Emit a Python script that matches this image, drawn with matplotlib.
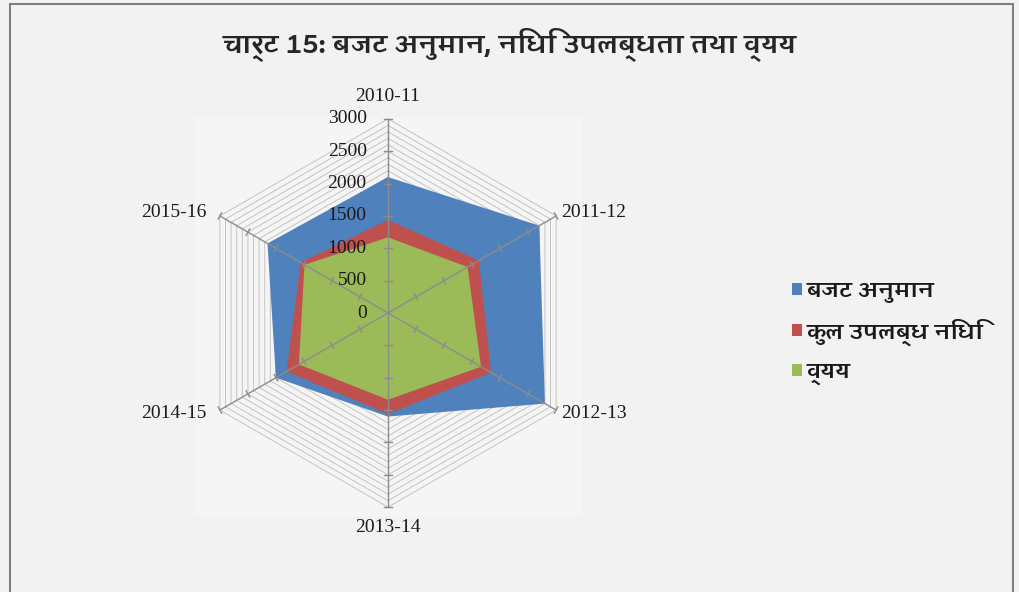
import numpy as np
import matplotlib
matplotlib.use('Agg')
import matplotlib.pyplot as plt
from matplotlib import font_manager
from matplotlib.ft2font import FT2Font
from matplotlib.patches import Rectangle

# data
years = ['2010-11', '2011-12', '2012-13', '2013-14', '2014-15', '2015-16']
budget = [2100, 2700, 2800, 1600, 2000, 2150]        # बजट अनुमान
available = [1440, 1620, 1840, 1560, 1810, 1560]    # कुल उपलब्ध निधि
expense = [1170, 1420, 1660, 1340, 1590, 1490]       # व्यय
series_names = ['बजट अनुमान', 'कुल उपलब्ध निधि', 'व्यय']
ticks = [0, 500, 1000, 1500, 2000, 2500, 3000]
title = 'चार्ट 15: बजट अनुमान, निधि उपलब्धता तथा व्यय'


def find_family(ch):
    # installed fonts that have the character, boldest-ish first
    found = []
    for f in font_manager.fontManager.ttflist:
        try:
            if ord(ch) in FT2Font(f.fname).get_charmap():
                w = f.weight if isinstance(f.weight, int) else font_manager.weight_dict.get(f.weight, 400)
                found.append((abs(w - 700), 'Thin' in f.name or 'Light' in f.name, f.name))
        except Exception:
            pass
    if not found:
        return None
    found.sort()
    return found[0][2]


deva = find_family('ब')
fam = [deva, 'DejaVu Sans'] if deva else ['DejaVu Sans']
serif = ['Liberation Serif', 'DejaVu Serif']
txt = '#1a1a1a'

bg = '#f2f2f2'
fig = plt.figure(figsize=(10.19, 5.92), dpi=100, facecolor=bg)
W, H = 1019, 592

# outer border
fig.add_artist(Rectangle((10 / W, -0.01), 1003 / W, 1 - 4 / H + 0.01, transform=fig.transFigure,
                         fill=False, edgecolor='#7f7f7f', lw=1.5))
# plot area slightly lighter
fig.add_artist(Rectangle((195 / W, 1 - 516 / H), 387 / W, 399 / H, transform=fig.transFigure,
                         facecolor='#f5f5f5', edgecolor='none', zorder=0))

cx, cy, half = 388, 313, 220
lim = 3400
ax = fig.add_axes([(cx - half) / W, (H - cy - half) / H, 2 * half / W, 2 * half / H])
ax.set_xlim(-lim, lim)
ax.set_ylim(-lim, lim)
ax.axis('off')

n = len(years)
ang = np.deg2rad(90 - 60 * np.arange(n))
ca, sa = np.cos(ang), np.sin(ang)


def ring(vals):
    v = np.asarray(vals, dtype=float)
    x = v * ca
    y = v * sa
    return np.append(x, x[0]), np.append(y, y[0])


# grid hexagons every 100
for g in range(100, 3001, 100):
    x, y = ring([g] * n)
    ax.plot(x, y, color='#c4c4c4', lw=0.7, zorder=1)

colors = ['#4f81bd', '#c0504d', '#9bbb59']
handles = []
for vals, col, name in zip([budget, available, expense], colors, series_names):
    x, y = ring(vals)
    h = ax.fill(x, y, color=col, lw=0, zorder=2, label=name)[0]
    handles.append(h)

# spokes with tick marks
for i in range(n):
    ax.plot([0, 3000 * ca[i]], [0, 3000 * sa[i]], color='#8c8c8c', lw=1.0, zorder=3)
    px, py = -sa[i], ca[i]
    for t in ticks[1:]:
        bx, by = t * ca[i], t * sa[i]
        ax.plot([bx - 55 * px, bx + 55 * px], [by - 55 * py, by + 55 * py],
                color='#8c8c8c', lw=1.0, zorder=3)

# value labels
for t in ticks:
    ax.text(-330, t, str(t), ha='right', va='center', fontsize=14,
            family=serif, color=txt, zorder=4)

# category labels
ax.text(0, 3340, years[0], ha='center', va='center', fontsize=14, family=serif, color=txt)
ax.text(0, -3310, years[3], ha='center', va='center', fontsize=14, family=serif, color=txt)
ax.text(3000 * ca[1] + 80, 3000 * sa[1] + 50, years[1], ha='left', va='center',
        fontsize=14, family=serif, color=txt)
ax.text(3000 * ca[2] + 80, 3000 * sa[2] - 50, years[2], ha='left', va='center',
        fontsize=14, family=serif, color=txt)
ax.text(3000 * ca[4] - 200, 3000 * sa[4] - 50, years[4], ha='right', va='center',
        fontsize=14, family=serif, color=txt)
ax.text(3000 * ca[5] - 200, 3000 * sa[5] + 50, years[5], ha='right', va='center',
        fontsize=14, family=serif, color=txt)

fig.text(510 / W, 1 - 45 / H, title, ha='center', va='center', fontsize=19,
         fontweight='bold', family=fam, color='#262626')

fig.legend(handles=handles, labels=series_names, loc='upper left',
           bbox_to_anchor=(792 / W, 1 - 280 / H), frameon=False,
           borderaxespad=0, borderpad=0,
           handlelength=0.45, handleheight=0.45, handletextpad=0.2, labelspacing=0.68,
           prop={'family': fam, 'size': 16, 'weight': 'bold'}, labelcolor=txt)

fig.savefig('out.png', dpi=100, facecolor=bg)
